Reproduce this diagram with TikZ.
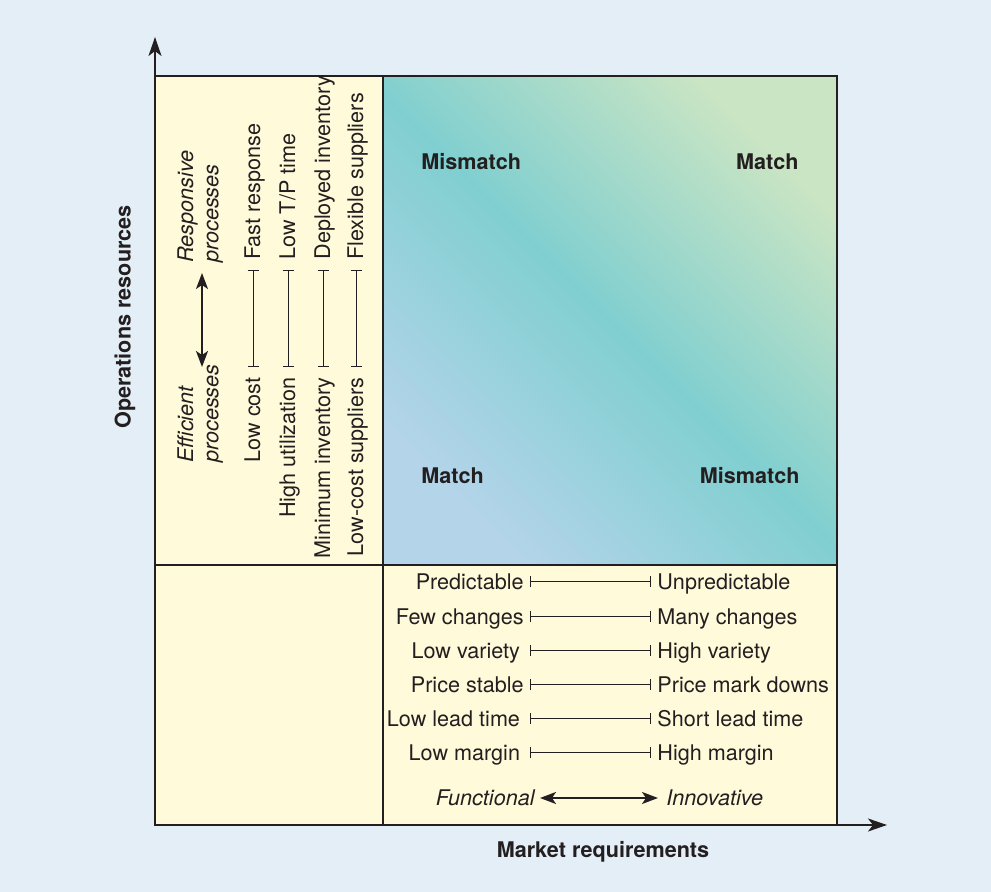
\documentclass[tikz,border=0pt]{standalone}
\usepackage{fontspec}
\setmainfont{TeX Gyre Heros}
\usetikzlibrary{arrows.meta, positioning}

\definecolor{pagebg}{HTML}{E4EEF6}
\definecolor{cellyellow}{HTML}{FFFADA}
\definecolor{gradlow}{HTML}{B4D4EA}
\definecolor{gradmid}{HTML}{80CFD0}
\definecolor{gradhigh}{HTML}{CAE5C3}
\definecolor{inkgray}{HTML}{231F20}

\begin{document}
\begin{tikzpicture}[
    x=0.5pt, y=-0.5pt,
    every node/.style={font=\fontsize{10.8}{12.6}\selectfont, text=inkgray},
    axislabel/.style={font=\fontsize{10.8}{12.6}\selectfont\bfseries},
    quadlabel/.style={font=\fontsize{10.8}{12.6}\selectfont\bfseries, inner sep=0pt, text height=0.72em, text depth=0pt},
    rowlabel/.style={inner xsep=3pt, inner ysep=0pt, text height=0.72em, text depth=0pt},
    collabel/.style={rotate=90, inner xsep=5pt, inner ysep=0pt, text height=0.72em, text depth=0pt},
    sidelabel/.style={rotate=90, inner sep=0pt, align=left, font=\fontsize{10.8}{12.6}\selectfont\itshape},
    axisarrow/.style={-{Stealth[length=9.5pt, width=6.5pt, inset=2.5pt]}, line width=1pt, draw=inkgray},
    spanline/.style={{Bar[width=5.5pt]}-{Bar[width=5.5pt]}, line width=0.5pt, draw=inkgray},
    dblarrow/.style={{Stealth[length=8pt, width=6pt, inset=2pt]}-{Stealth[length=8pt, width=6pt, inset=2pt]}, line width=1pt, draw=inkgray},
    boxline/.style={line width=1pt, draw=inkgray}
]

% Background and page size
\fill[pagebg] (0,0) rectangle (991,892);
\useasboundingbox (0,0) rectangle (991,892);

% Matrix cells
\fill[cellyellow] (155,76) rectangle (383,825);
\fill[cellyellow] (383,565) rectangle (837,825);
\shade[top color=gradhigh, bottom color=gradlow, middle color=gradmid, shading angle=-45] (383,76) rectangle (837,565);
\draw[boxline] (155,76) rectangle (837,825);
\draw[boxline] (383,76) -- (383,825);
\draw[boxline] (155,565) -- (837,565);

% Axes
\coordinate (origin) at (155,825);
\coordinate (ytip) at (155,37);
\coordinate (xtip) at (887,825);
\draw[axisarrow] (origin) -- (ytip);
\draw[axisarrow] (origin) -- (xtip);
\node[axislabel, rotate=90] (ylab) at (125,317) {Operations resources};
\node[axislabel] (xlab) at (603,852) {Market requirements};

% Quadrant labels
\node[quadlabel, anchor=west] (mis1) at (421,162) {Mismatch};
\node[quadlabel, anchor=east] (mat1) at (799,162) {Match};
\node[quadlabel, anchor=west] (mat2) at (421,476) {Match};
\node[quadlabel, anchor=east] (mis2) at (800,476) {Mismatch};

% Operations side
\node[sidelabel, anchor=north west] (effi) at (177,463) {Efficient\\processes};
\node[sidelabel, anchor=north west] (resp) at (177,263) {Responsive\\processes};
\coordinate (effend) at (202,367);
\coordinate (respend) at (202,273);
\draw[dblarrow] (effend) -- (respend);

\node[collabel, anchor=east] (cost) at (253,367) {Low cost};
\node[collabel, anchor=west] (fast) at (253,270) {Fast response};
\node[collabel, anchor=east] (util) at (288,367) {High utilization};
\node[collabel, anchor=west] (tpt) at (288,270) {Low T/P time};
\node[collabel, anchor=east] (mininv) at (323,367) {Minimum inventory};
\node[collabel, anchor=west] (depinv) at (323,270) {Deployed inventory};
\node[collabel, anchor=east] (lcsup) at (356,367) {Low-cost suppliers};
\node[collabel, anchor=west] (flexsup) at (356,270) {Flexible suppliers};

\draw[spanline] (cost.east) -- (fast.west);
\draw[spanline] (util.east) -- (tpt.west);
\draw[spanline] (mininv.east) -- (depinv.west);
\draw[spanline] (lcsup.east) -- (flexsup.west);

% Market side
\node[rowlabel, anchor=east] (pred) at (530,582) {Predictable};
\node[rowlabel, anchor=west] (unpred) at (651,582) {Unpredictable};
\node[rowlabel, anchor=east] (few) at (530,617) {Few changes};
\node[rowlabel, anchor=west] (many) at (651,617) {Many changes};
\node[rowlabel, anchor=east] (lowvar) at (530,651) {Low variety\,};
\node[rowlabel, anchor=west] (highvar) at (651,651) {High variety};
\node[rowlabel, anchor=east] (stable) at (530,685) {Price stable};
\node[rowlabel, anchor=west] (markdown) at (651,685) {Price mark downs};
\node[rowlabel, anchor=east] (lowlead) at (530,719) {Low lead time\,};
\node[rowlabel, anchor=west] (shortlead) at (651,719) {Short lead time};
\node[rowlabel, anchor=east] (lowmar) at (530,753) {Low margin\,};
\node[rowlabel, anchor=west] (highmar) at (651,753) {High margin};

\draw[spanline] (pred.east) -- (unpred.west);
\draw[spanline] (few.east) -- (many.west);
\draw[spanline] (lowvar.east) -- (highvar.west);
\draw[spanline] (stable.east) -- (markdown.west);
\draw[spanline] (lowlead.east) -- (shortlead.west);
\draw[spanline] (lowmar.east) -- (highmar.west);

\node[rowlabel, anchor=east, font=\fontsize{10.8}{12.6}\selectfont\itshape, inner xsep=2.5pt] (func) at (540,798) {Functional};
\node[rowlabel, anchor=west, font=\fontsize{10.8}{12.6}\selectfont\itshape, inner xsep=4pt] (innov) at (658,798) {Innovative};
\draw[dblarrow] (func.east) -- (innov.west);

\end{tikzpicture}
\end{document}
